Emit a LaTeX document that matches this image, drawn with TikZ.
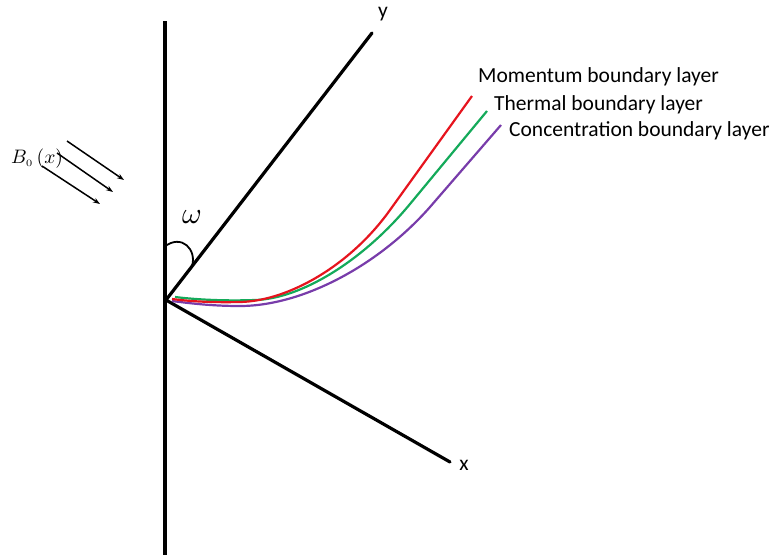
\documentclass[tikz,border=0pt]{standalone}
\usepackage{fontspec}
\setsansfont{Carlito}
\usetikzlibrary{arrows.meta}
\definecolor{cred}{RGB}{230,20,30}
\definecolor{cgreen}{RGB}{20,170,90}
\definecolor{cpurple}{RGB}{120,60,170}
\begin{document}
\begin{tikzpicture}[x=1pt,y=-1pt,
  axis/.style={line width=3.2pt,black},
  layer/.style={line width=2.2pt},
  lbl/.style={font=\sffamily\fontsize{21.5}{24}\selectfont,anchor=west,inner sep=0pt},
  field/.style={line width=1.5pt,-{Stealth[length=7pt,width=5pt]}}]
\useasboundingbox (0,0) rectangle (774,555);
\coordinate (o) at (166,300);
\coordinate (wtop) at (165,21);
\coordinate (wbot) at (165,555);
\coordinate (ytip) at (372,33);
\coordinate (xtip) at (450,462);
\draw[axis] (wtop) -- (wbot);
\draw[axis,line cap=round] (o) -- (ytip);
\draw[axis,line cap=round] (o) -- (xtip);
\node[font=\sffamily\fontsize{21.5}{24}\selectfont] (ylab) at (383,14) {y};
\node[font=\sffamily\fontsize{21.5}{24}\selectfont] (xlab) at (464,465) {x};
% omega arc
\coordinate (a1) at (164,247);
\coordinate (a2) at (192,266);
\draw[line width=1.8pt] (a1) .. controls (182,233) and (197,250) .. (a2);
\node (om) at (192,217) {\scalebox{3}{$\omega$}};
% B0
\node (B) at (37,159) {\scalebox{1.95}{$B_{\scriptscriptstyle 0}\left(x\right)$}};
\coordinate (s1) at (67,141); \coordinate (e1) at (124,180);
\coordinate (s2) at (57,153); \coordinate (e2) at (113,192);
\coordinate (s3) at (42,166); \coordinate (e3) at (100,204);
\draw[field] (s1) -- (e1);
\draw[field] (s2) -- (e2);
\draw[field] (s3) -- (e3);
% boundary layers
\coordinate (p0) at (172,301); \coordinate (p1) at (240,306); \coordinate (p2) at (430,207); \coordinate (p3) at (501,125);
\coordinate (g0) at (175,297); \coordinate (g1) at (255,300); \coordinate (g2) at (410,204); \coordinate (g3) at (487,111);
\coordinate (r0) at (172,299); \coordinate (r1) at (240,302); \coordinate (r2) at (390,210); \coordinate (r3) at (472,96);
\draw[layer,cpurple] (p0) .. controls (195,304) and (215,306) .. (p1)
  .. controls (302,306) and (378,266) .. (p2) -- (p3);
\draw[layer,cgreen] (g0) .. controls (200,300) and (228,301) .. (g1)
  .. controls (300,299) and (362,262) .. (g2) -- (g3);
\draw[layer,cred] (r0) .. controls (195,302) and (218,302.5) .. (r1)
  .. controls (288,301) and (350,266) .. (r2) -- (r3);
\node[lbl] (m) at (478,77) {Momentum boundary layer};
\node[lbl] (t) at (494,105) {Thermal boundary layer};
\node[lbl] (c) at (509,131) {Concentration boundary layer};
\end{tikzpicture}
\end{document}
